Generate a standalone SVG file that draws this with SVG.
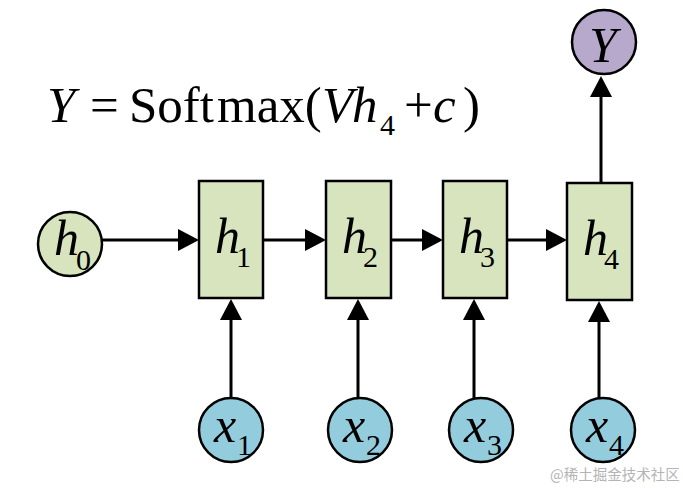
<svg xmlns="http://www.w3.org/2000/svg" width="683" height="488" viewBox="0 0 683 488">
<style>
text{font-family:'Liberation Serif','Times New Roman',Times,serif}
.box{fill:#d7e4bd;stroke:#000;stroke-width:2.5}
.xc{fill:#93cddd;stroke:#000;stroke-width:2.5}
.yc{fill:#b6a9cb;stroke:#000;stroke-width:2.5}
.lbl{font-style:italic;font-size:50px;fill:#000}
.sub{font-style:normal;font-size:30px}
.eq{font-size:51px;fill:#000}
.it{font-style:italic}
.eqsub{font-size:30px}
.con{stroke:#000;stroke-width:3;fill:none;marker-end:url(#arr)}
.wm{font-family:'Noto Sans CJK SC','Liberation Sans',sans-serif;font-size:14.5px;fill:#b4b4b4}
</style>
<defs>
<marker id="arr" viewBox="0 0 21 22" refX="11" refY="11" markerWidth="21" markerHeight="22" markerUnits="userSpaceOnUse" orient="auto">
<path d="M0,0 L21,11 L0,22 z" fill="#000"/>
</marker>
</defs>
<rect width="683" height="488" fill="#fff"/>
<g id="equation">
<text class="eq" y="122"><tspan class="it" x="47">Y</tspan><tspan x="90">=</tspan><tspan x="129">Soft</tspan><tspan x="217">max(</tspan><tspan class="it" x="322">V</tspan><tspan class="it" x="352">h</tspan><tspan class="eqsub" x="380" dy="13">4</tspan><tspan x="404" dy="-13">+</tspan><tspan class="it" x="433">c</tspan><tspan x="463">)</tspan></text>
</g>
<g id="connectors">
<line class="con" x1="102" y1="240" x2="189" y2="240"/>
<line class="con" x1="263" y1="240" x2="316" y2="240"/>
<line class="con" x1="391" y1="240" x2="433" y2="240"/>
<line class="con" x1="507" y1="240" x2="557" y2="240"/>
<line class="con" x1="231" y1="398" x2="231" y2="309"/>
<line class="con" x1="358" y1="398" x2="358" y2="309"/>
<line class="con" x1="474" y1="398" x2="474" y2="309"/>
<line class="con" x1="599" y1="398" x2="599" y2="311"/>
<line class="con" x1="601" y1="183" x2="601" y2="86"/>
</g>
<g id="node-h0">
<circle class="box" cx="70" cy="244" r="32"/>
<text class="lbl" x="54" y="255">h<tspan class="sub" x="76" dy="15">0</tspan></text>
</g>
<g id="node-h1">
<rect class="box" x="199" y="181" width="64" height="117"/>
<text class="lbl" x="215" y="253">h<tspan class="sub" x="236" dy="14">1</tspan></text>
</g>
<g id="node-h2">
<rect class="box" x="326" y="181" width="65" height="117"/>
<text class="lbl" x="342" y="253">h<tspan class="sub" x="363" dy="14">2</tspan></text>
</g>
<g id="node-h3">
<rect class="box" x="443" y="181" width="64" height="117"/>
<text class="lbl" x="459" y="253">h<tspan class="sub" x="480" dy="14">3</tspan></text>
</g>
<g id="node-h4">
<rect class="box" x="567" y="183" width="65" height="117"/>
<text class="lbl" x="583" y="255">h<tspan class="sub" x="604" dy="14">4</tspan></text>
</g>
<g id="node-Y">
<circle class="yc" cx="604" cy="42" r="32"/>
<text class="lbl" x="589" y="62">Y</text>
</g>
<g id="node-x1">
<circle class="xc" cx="231" cy="430" r="32"/>
<text class="lbl" x="214" y="442">x<tspan class="sub" x="237" dy="13">1</tspan></text>
</g>
<g id="node-x2">
<circle class="xc" cx="360" cy="430" r="32"/>
<text class="lbl" x="343" y="442">x<tspan class="sub" x="366" dy="13">2</tspan></text>
</g>
<g id="node-x3">
<circle class="xc" cx="481" cy="430" r="32"/>
<text class="lbl" x="464" y="442">x<tspan class="sub" x="487" dy="13">3</tspan></text>
</g>
<g id="node-x4">
<circle class="xc" cx="603" cy="430" r="32"/>
<text class="lbl" x="586" y="442">x<tspan class="sub" x="609" dy="13">4</tspan></text>
</g>
<text class="wm" x="550" y="480">@稀土掘金技术社区</text>
</svg>
